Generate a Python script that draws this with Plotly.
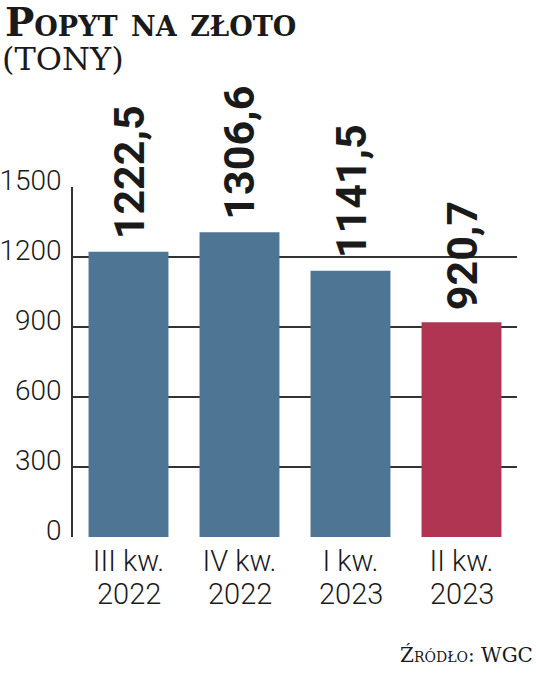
import plotly.graph_objects as go

quarters = ["III kw.", "IV kw.", "I kw.", "II kw."]
years = ["2022", "2022", "2023", "2023"]
values = [1222.5, 1306.6, 1141.5, 920.7]
colors = ["#4f7595", "#4f7595", "#4f7595", "#b03552"]
y_ticks = [0, 300, 600, 900, 1200, 1500]

cats = [f"{q} {y}" for q, y in zip(quarters, years)]
labels = [f"{v:.1f}".replace(".", ",") for v in values]

SANS = "Roboto, DejaVu Sans Condensed, sans-serif"
SERIF = "DejaVu Serif, serif"

fig = go.Figure()
fig.add_trace(go.Bar(
    x=cats, y=values, marker=dict(color=colors, line=dict(width=0)),
    hoverinfo="skip",
))

for c, v, lab in zip(cats, values, labels):
    fig.add_annotation(
        x=c, y=v, xref="x", yref="y", text=lab, textangle=-90,
        showarrow=False, yanchor="bottom", xanchor="center", yshift=10,
        font=dict(family=SANS, size=43, color="#1a1a1a", weight="bold"),
    )
for c, yr in zip(cats, years):
    fig.add_annotation(
        x=c, y=0, xref="x", yref="y", text=yr, showarrow=False,
        yanchor="top", xanchor="center", yshift=-38,
        font=dict(family=SANS, size=29, color="#1a1a1a", weight=300),
    )

fig.update_layout(
    width=536, height=676,
    margin=dict(l=73, r=19, t=187, b=139, pad=0),
    paper_bgcolor="white", plot_bgcolor="white",
    bargap=0.28, showlegend=False,
    xaxis=dict(
        tickmode="array", tickvals=cats, ticktext=quarters,
        tickfont=dict(family=SANS, size=29, color="#1a1a1a", weight=300),
        showgrid=False, zeroline=False, showline=False, ticks="",
        ticklabelstandoff=4, automargin=False,
    ),
    yaxis=dict(
        range=[0, 1500], tickvals=y_ticks,
        tickfont=dict(family=SANS, size=28, color="#1a1a1a", weight=300),
        showgrid=True, gridcolor="#333333", gridwidth=1.5,
        zeroline=False, showline=True, linecolor="#333333", linewidth=1.5,
        ticks="", ticklabelstandoff=4, ticklabelshift=-7, automargin=False,
    ),
)

fig.add_annotation(
    x=0.0, y=1.0, xref="paper", yref="paper", xshift=-70, yshift=190,
    text="Popyt na złoto", showarrow=False, xanchor="left", yanchor="top",
    font=dict(family=SERIF, size=39, color="#1a1a1a", weight="bold", variant="small-caps"),
)
fig.add_annotation(
    x=0.0, y=1.0, xref="paper", yref="paper", xshift=-73, yshift=149,
    text="(TONY)", showarrow=False, xanchor="left", yanchor="top",
    font=dict(family=SERIF, size=32, color="#1a1a1a"),
)
fig.add_annotation(
    x=1.0, y=0.0, xref="paper", yref="paper", xshift=18, yshift=-104,
    text="Źródło: WGC", showarrow=False, xanchor="right", yanchor="top",
    font=dict(family=SERIF, size=20, color="#1a1a1a", variant="small-caps"),
)

fig.write_html("out.html", config={"displayModeBar": False},
               post_script="document.body.style.margin='0';")
